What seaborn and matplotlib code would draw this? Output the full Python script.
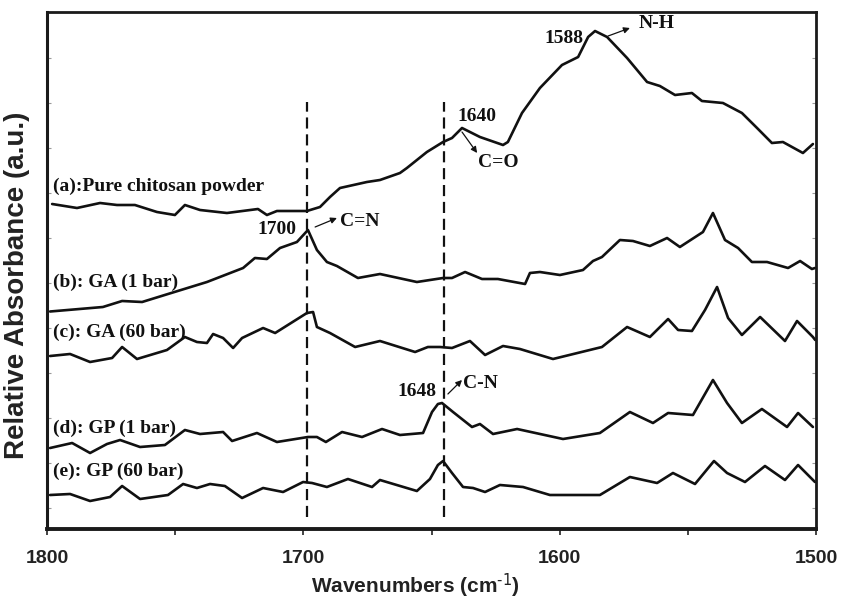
import numpy as np
import pandas as pd
import matplotlib
matplotlib.use("Agg")
import matplotlib.pyplot as plt
from matplotlib.ticker import MultipleLocator, FixedLocator
import seaborn as sns

# ---- spectra (wavenumber in cm-1, stacked relative absorbance in a.u.) ----
wn_a = [1798.0, 1788.3, 1779.3, 1772.7, 1765.7, 1757.1, 1750.1, 1746.2, 1740.3, 1729.8,
        1717.7, 1714.2, 1710.3, 1698.6, 1693.5, 1689.6, 1685.7, 1675.2, 1670.1, 1662.3,
        1659.6, 1651.8, 1645.5, 1642.0, 1638.1, 1631.1, 1622.1, 1620.2, 1614.7, 1607.7,
        1599.1, 1592.8, 1588.9, 1586.2, 1581.5, 1573.7, 1565.9, 1560.9, 1555.0, 1548.4,
        1544.5, 1536.3, 1528.9, 1523.0, 1517.2, 1512.9, 1505.1, 1501.2]
abs_a = [6.50, 6.42, 6.52, 6.48, 6.48, 6.34, 6.28, 6.48, 6.38, 6.32,
         6.40, 6.28, 6.36, 6.36, 6.44, 6.64, 6.82, 6.94, 6.98, 7.12,
         7.22, 7.54, 7.74, 7.82, 8.02, 7.84, 7.68, 7.74, 8.32, 8.82,
         9.28, 9.44, 9.84, 9.96, 9.84, 9.42, 8.94, 8.86, 8.68, 8.72,
         8.56, 8.52, 8.32, 8.02, 7.72, 7.74, 7.52, 7.70]

wn_b = [1798.8, 1778.2, 1770.7, 1762.9, 1752.8, 1737.6, 1723.5, 1718.9, 1714.2, 1709.1,
        1702.5, 1698.2, 1694.7, 1690.8, 1686.9, 1678.7, 1670.1, 1655.7, 1645.5, 1642.0,
        1636.9, 1630.3, 1624.1, 1613.5, 1611.6, 1607.7, 1599.9, 1590.9, 1587.0, 1583.5,
        1576.5, 1571.4, 1564.8, 1558.1, 1553.1, 1544.1, 1540.2, 1535.5, 1530.4, 1525.0,
        1519.1, 1510.9, 1506.2, 1501.6, 1500.4]
abs_b = [4.35, 4.44, 4.56, 4.54, 4.70, 4.94, 5.22, 5.42, 5.40, 5.62,
         5.74, 5.98, 5.58, 5.34, 5.26, 5.02, 5.10, 4.94, 5.02, 5.02,
         5.14, 5.00, 5.00, 4.90, 5.12, 5.14, 5.08, 5.18, 5.36, 5.44,
         5.78, 5.76, 5.66, 5.82, 5.64, 5.94, 6.32, 5.78, 5.62, 5.34,
         5.34, 5.22, 5.36, 5.20, 5.22]

wn_c = [1798.8, 1791.0, 1783.2, 1774.6, 1770.7, 1764.9, 1753.2, 1746.2, 1741.5, 1737.6,
        1735.2, 1731.3, 1727.4, 1723.9, 1715.7, 1711.0, 1698.6, 1696.2, 1694.7, 1689.6,
        1679.8, 1670.1, 1656.4, 1651.4, 1646.7, 1642.0, 1635.0, 1629.1, 1622.1, 1615.5,
        1602.6, 1583.5, 1573.7, 1564.8, 1557.7, 1553.8, 1548.4, 1543.3, 1538.6, 1534.3,
        1528.9, 1521.8, 1512.1, 1507.4, 1501.2, 1500.3]
abs_c = [3.46, 3.50, 3.34, 3.42, 3.64, 3.40, 3.58, 3.84, 3.74, 3.72,
         3.90, 3.82, 3.62, 3.82, 4.02, 3.92, 4.32, 4.34, 4.04, 3.92,
         3.64, 3.76, 3.54, 3.64, 3.64, 3.62, 3.76, 3.48, 3.66, 3.60,
         3.40, 3.64, 4.04, 3.84, 4.20, 3.98, 3.96, 4.38, 4.84, 4.22,
         3.88, 4.24, 3.76, 4.16, 3.84, 3.78]

wn_d = [1798.8, 1790.2, 1783.2, 1776.6, 1771.5, 1763.7, 1754.0, 1746.2, 1740.3, 1731.3,
        1727.8, 1718.1, 1710.3, 1698.2, 1694.7, 1691.2, 1684.9, 1677.1, 1669.3, 1662.3,
        1653.3, 1649.8, 1647.5, 1645.9, 1641.6, 1634.2, 1631.1, 1626.0, 1616.6, 1598.7,
        1584.3, 1572.6, 1563.6, 1557.7, 1548.0, 1540.2, 1534.7, 1528.9, 1521.1, 1511.3,
        1507.0, 1501.2]
abs_d = [1.62, 1.72, 1.52, 1.70, 1.78, 1.64, 1.68, 1.98, 1.90, 1.94,
         1.76, 1.92, 1.74, 1.84, 1.84, 1.74, 1.94, 1.84, 2.00, 1.88,
         1.92, 2.34, 2.50, 2.52, 2.34, 2.04, 2.10, 1.90, 2.00, 1.80,
         1.92, 2.34, 2.12, 2.32, 2.28, 2.98, 2.52, 2.12, 2.40, 2.04,
         2.32, 2.04]

wn_e = [1798.8, 1791.0, 1783.2, 1775.4, 1770.7, 1763.7, 1752.8, 1746.9, 1741.5, 1736.4,
        1730.6, 1723.9, 1715.7, 1707.9, 1700.1, 1696.6, 1690.8, 1682.6, 1673.2, 1670.1,
        1655.7, 1650.6, 1647.5, 1645.5, 1642.0, 1637.7, 1633.8, 1629.1, 1623.3, 1614.3,
        1603.8, 1584.3, 1572.6, 1562.0, 1555.8, 1547.2, 1539.8, 1534.7, 1527.7, 1519.9,
        1512.1, 1507.0, 1500.4]
abs_e = [0.68, 0.70, 0.56, 0.64, 0.86, 0.60, 0.68, 0.90, 0.82, 0.90,
         0.86, 0.62, 0.82, 0.74, 0.94, 0.92, 0.84, 1.00, 0.84, 0.98,
         0.76, 1.00, 1.28, 1.36, 1.12, 0.84, 0.82, 0.74, 0.88, 0.84,
         0.68, 0.68, 1.04, 0.92, 1.12, 0.90, 1.36, 1.12, 0.94, 1.26,
         0.98, 1.28, 0.94]

series_names = ["(a):Pure chitosan powder", "(b): GA (1 bar)", "(c): GA (60 bar)",
                "(d): GP (1 bar)", "(e): GP (60 bar)"]
series_wn = [wn_a, wn_b, wn_c, wn_d, wn_e]
series_abs = [abs_a, abs_b, abs_c, abs_d, abs_e]

# label anchors (left edge wavenumber, a.u.)
label_wn = [1797.7, 1797.7, 1797.7, 1797.7, 1797.7]
label_abs = [6.86, 4.94, 3.94, 2.02, 1.16]

# reference bands marked with dashed lines
band_wn = [1698.6, 1645.1]
band_range = (0.24, 8.54)

# peak annotations: value text, group text, positions and arrow ends
peak_text = ["1700", "1640", "1588", "1648"]
peak_pos = [(1702.5, 5.98), (1640.0, 8.24), (1590.9, 9.80), (1647.9, 2.76)]
peak_ha = ["right", "left", "right", "right"]
group_text = ["C=N", "C=O", "N-H", "C-N"]
group_pos = [(1685.7, 6.14), (1631.9, 7.32), (1569.1, 10.10), (1637.7, 2.92)]
arrow_tail = [(1695.4, 6.04), (1638.1, 7.94), (1581.1, 9.86), (1643.6, 2.70)]
arrow_head = [(1686.9, 6.22), (1632.2, 7.52), (1572.6, 10.02), (1638.1, 2.98)]

ytick_vals = [0.42 + 0.9 * k for k in range(11)]

frames = []
for name, w, a in zip(series_names, series_wn, series_abs):
    frames.append(pd.DataFrame({"wavenumber": w, "absorbance": a, "sample": name}))
spectra = pd.concat(frames, ignore_index=True)

sns.set_theme(style="white")
plt.rcParams["font.family"] = ["Liberation Sans", "DejaVu Sans"]
plt.rcParams["mathtext.default"] = "regular"

fig = plt.figure(figsize=(8.42, 5.99), dpi=100)
ax = fig.add_axes([47 / 842, 1 - 529 / 599, (816 - 47) / 842, (529 - 12) / 599])

sns.lineplot(data=spectra, x="wavenumber", y="absorbance", units="sample",
             estimator=None, color="#111111", linewidth=1.9, sort=True, ax=ax,
             legend=False)
for line in ax.lines:
    line.set_solid_joinstyle("round")
    line.set_solid_capstyle("round")

ax.vlines(band_wn, band_range[0], band_range[1], colors="#111111",
          linestyles=(0, (5, 2.6)), linewidth=1.6)

serif = dict(family=["Liberation Serif", "DejaVu Serif"], weight="bold", fontsize=14,
             color="#111111")
for name, lw_, la in zip(series_names, label_wn, label_abs):
    ax.text(lw_, la, name, ha="left", va="center", **serif)

for txt, pos, ha in zip(peak_text, peak_pos, peak_ha):
    ax.text(pos[0], pos[1], txt, ha=ha, va="center", **serif)
for txt, pos in zip(group_text, group_pos):
    ax.text(pos[0], pos[1], txt, ha="left", va="center", **serif)
for tail, head in zip(arrow_tail, arrow_head):
    ax.annotate("", xy=head, xytext=tail,
                arrowprops=dict(arrowstyle="-|>", color="#111111", lw=0.9,
                                mutation_scale=9, shrinkA=0, shrinkB=0))

ax.set_xlim(1800, 1500)
ax.set_ylim(0, 10.34)
ax.xaxis.set_major_locator(MultipleLocator(100))
ax.xaxis.set_minor_locator(MultipleLocator(50))
ax.yaxis.set_major_locator(FixedLocator(ytick_vals))
ax.set_yticklabels([])
ax.tick_params(axis="x", which="both", direction="out", length=4, width=1.2,
               color="#222222", bottom=True, top=False, pad=11,
               labelsize=14, labelcolor="#222222")
ax.tick_params(axis="y", which="both", direction="in", length=3, width=0.8,
               color="#999999", left=True, right=True)
for lab in ax.get_xticklabels():
    lab.set_fontweight("bold")

for side, lw_ in {"top": 2.0, "right": 2.0, "left": 2.2, "bottom": 2.8}.items():
    ax.spines[side].set_linewidth(lw_)
    ax.spines[side].set_color("#1a1a1a")

ax.set_xlabel(r"Wavenumbers (cm$^{\text{-1}}$)", fontsize=15, fontweight="bold",
              color="#222222")
ax.xaxis.set_label_coords((415 - 47) / 769, -(571 - 529) / 517)
ax.set_ylabel("Relative Absorbance (a.u.)", fontsize=20, fontweight="bold",
              color="#222222")
ax.yaxis.set_label_coords(-(47 - 30) / 769, (529 - 285) / 517)

fig.savefig("out.png", dpi=100)
